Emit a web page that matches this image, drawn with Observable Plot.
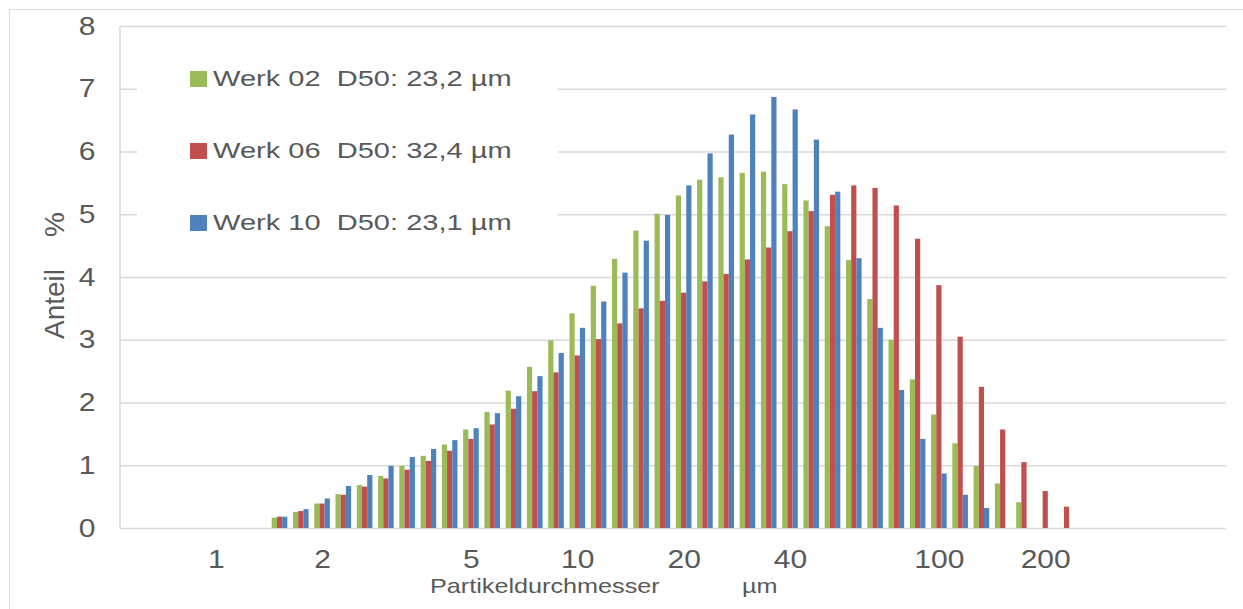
<!DOCTYPE html>
<html>
<head>
<meta charset="utf-8">
<script src="https://cdn.jsdelivr.net/npm/d3@7"></script>
<script src="https://cdn.jsdelivr.net/npm/@observablehq/plot@0.6"></script>
<style>
  html, body { margin: 0; padding: 0; background: #fff; overflow: hidden; }
  #wrap { position: relative; width: 1243px; height: 609px; font-family: "Liberation Sans", Arial, sans-serif; color: #595959; }
  #border { position: absolute; left: 9px; top: 9px; right: 0; bottom: 0; border-left: 1.5px solid #d9d9d9; border-top: 1.5px solid #d9d9d9; pointer-events: none; }
  #legend { position: absolute; left: 137px; top: 40px; width: 421px; height: 210px; background: #fff; }
  .lrow { position: absolute; left: 53px; height: 22px; display: flex; align-items: center; }
  .sw { width: 17px; height: 16px; margin-right: 6px; flex: none; }
  .lt { display: inline-block; font-size: 22px; line-height: 1; white-space: pre; transform: scaleX(1.32); transform-origin: left center; }
  .xl { position: absolute; font-size: 21px; line-height: 14px; height: 14px; top: 578.5px; white-space: nowrap; transform: scaleX(1.2); transform-origin: left center; }
  #ylabel { position: absolute; left: -10px; top: 259.5px; width: 130px; height: 28px; line-height: 28px; font-size: 28px; white-space: nowrap; transform: rotate(-90deg); transform-origin: center center; }
</style>
</head>
<body>
<div id="wrap"></div>
<script>
// ---- data ----
const seriesNames = ["Werk 02", "Werk 06", "Werk 10"];
const d50Labels = ["D50: 23,2 µm", "D50: 32,4 µm", "D50: 23,1 µm"];
const colors = ["#9BBB59", "#C0504D", "#4F81BD"];
const classCount = 52;            // number of size classes on the category axis
const firstClass = 7;             // first class that holds a value
const werk02 = [0.165, 0.255, 0.39, 0.54, 0.685, 0.83, 0.99, 1.15, 1.33, 1.57, 1.85, 2.19, 2.57, 2.99, 3.42, 3.86, 4.29, 4.74, 5.01, 5.30, 5.55, 5.59, 5.66, 5.68, 5.48, 5.22, 4.81, 4.27, 3.65, 3.00, 2.37, 1.81, 1.35, 0.99, 0.71, 0.41];
const werk06 = [0.18, 0.27, 0.39, 0.53, 0.66, 0.79, 0.93, 1.07, 1.23, 1.42, 1.65, 1.90, 2.18, 2.48, 2.75, 3.01, 3.26, 3.50, 3.62, 3.75, 3.93, 4.05, 4.28, 4.47, 4.73, 5.05, 5.31, 5.46, 5.42, 5.14, 4.61, 3.87, 3.05, 2.25, 1.57, 1.05, 0.59, 0.34];
const werk10 = [0.18, 0.30, 0.47, 0.67, 0.845, 0.99, 1.13, 1.26, 1.40, 1.59, 1.83, 2.10, 2.42, 2.79, 3.19, 3.61, 4.07, 4.58, 4.99, 5.46, 5.97, 6.27, 6.59, 6.87, 6.67, 6.19, 5.36, 4.30, 3.19, 2.20, 1.42, 0.87, 0.53, 0.32];
const tickClasses = [4, 9, 16, 21, 26, 31, 38, 43];
const tickLabels = ["1", "2", "5", "10", "20", "40", "100", "200"];
const yTicks = [0, 1, 2, 3, 4, 5, 6, 7, 8];
const xTitle = ["Partikeldurchmesser", "µm"];
const yTitle = ["Anteil", "%"];

// ---- layout ----
const W = 1243, H = 609;
const mL = 120, mR = 17, mT = 26, mB = 81;
const bw = (W - mL - mR) / classCount;
const groupW = 15.6, barW = groupW / 3;

const seriesValues = [werk02, werk06, werk10];
const rows = seriesNames.flatMap((s, k) =>
  seriesValues[k].map((v, i) => ({series: s, cls: firstClass + i, value: v})));

const labelOf = new Map(tickClasses.map((c, i) => [c, tickLabels[i]]));

const marks = [Plot.ruleY(yTicks, {stroke: "#d9d9d9", strokeWidth: 1.5})];
seriesNames.forEach((s, k) => {
  const iL = (bw - groupW) / 2 + k * barW;
  marks.push(Plot.barY(rows.filter(d => d.series === s), {
    x: "cls", y: "value", fill: colors[k],
    insetLeft: iL, insetRight: bw - iL - barW
  }));
});

const chart = Plot.plot({
  width: W, height: H,
  marginLeft: mL, marginRight: mR, marginTop: mT, marginBottom: mB,
  style: {fontFamily: '"Liberation Sans", Arial, sans-serif', fontSize: "25px", color: "#595959", background: "transparent", overflow: "visible"},
  x: {type: "band", domain: d3.range(classCount), padding: 0, round: false,
      ticks: tickClasses, tickFormat: d => labelOf.get(d) ?? "", tickSize: 0, tickPadding: 22, label: null},
  y: {domain: [0, 8], ticks: yTicks, tickSize: 0, tickPadding: 25, label: null},
  marks
});

// left axis line
d3.select(chart).append("line")
  .attr("x1", mL).attr("x2", mL).attr("y1", mT).attr("y2", H - mB + 0.75)
  .attr("stroke", "#d9d9d9").attr("stroke-width", 1.5);

// widen tick label glyphs horizontally around their anchor
chart.querySelectorAll("text").forEach(t => {
  const base = t.getAttribute("transform") || "";
  const ax = +t.getAttribute("x") || 0;
  t.setAttribute("transform", `${base} translate(${ax},0) scale(1.2,1) translate(${-ax},0)`);
});

const wrap = document.getElementById("wrap");
wrap.appendChild(chart);

// legend
const legend = document.createElement("div");
legend.id = "legend";
const rowCenters = [78.5, 151, 223];
seriesNames.forEach((s, k) => {
  const r = document.createElement("div");
  r.className = "lrow";
  r.style.top = (rowCenters[k] - 40 - 11) + "px";
  const sw = document.createElement("span");
  sw.className = "sw"; sw.style.background = colors[k];
  const t = document.createElement("span");
  t.className = "lt"; t.textContent = s + "  " + d50Labels[k];
  r.appendChild(sw); r.appendChild(t);
  legend.appendChild(r);
});
wrap.appendChild(legend);

// x axis title
const xt = document.createElement("div");
xt.id = "xtitle";
const x1 = document.createElement("span"); x1.className = "xl"; x1.style.left = "430px"; x1.textContent = xTitle[0];
const x2 = document.createElement("span"); x2.className = "xl"; x2.style.left = "742px"; x2.textContent = xTitle[1];
xt.appendChild(x1); xt.appendChild(document.createTextNode(" ")); xt.appendChild(x2);
wrap.appendChild(xt);

// y axis title
const yl = document.createElement("div");
yl.id = "ylabel";
yl.innerHTML = `<span>${yTitle[0]}</span><span style="margin-left:32px">${yTitle[1]}</span>`;
wrap.appendChild(yl);

const border = document.createElement("div");
border.id = "border";
wrap.appendChild(border);
</script>
</body>
</html>
